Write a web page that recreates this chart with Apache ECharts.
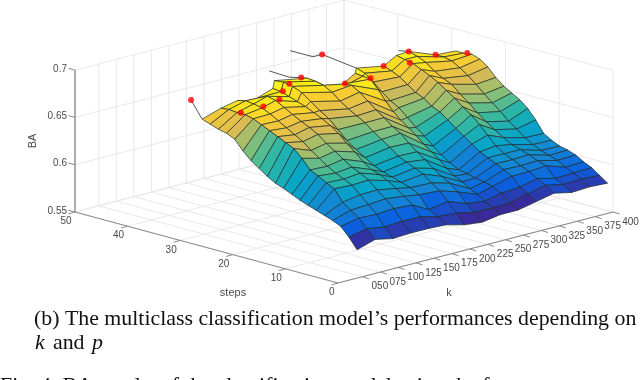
<!DOCTYPE html>
<html><head><meta charset="utf-8">
<style>html,body{margin:0;padding:0;background:#fff}#c{width:640px;height:380px}</style>
<script src="https://cdn.jsdelivr.net/npm/echarts@6/dist/echarts.min.js"></script>
</head><body><div id="c"></div>
<script>
const kValues=[50,75,100,125,150,175,200,225,250,275,300,325,350,375,400];
const kTicks=['050','075','100','125','150','175','200','225','250','275','300','325','350','375','400'];
const stepTicks=[0,10,20,30,40,50];
const baTicks=[0.55,0.6,0.65,0.7];
const baTickLabels=['0.55','0.6','0.65','0.7'];
// furthest step reached by the surface for each k
const lastStep=[30.4,30.2,30.4,31.3,30.4,33.4,30.6,30.2,28.2,31.3,29.5,30.4,31.4,29.7,29.2];
const firstStep=1;
// BA along each k column, front to back
const ba050=[.577,.588,.597,.601,.604,.607,.610,.613,.617,.621,.624,.629,.635,.641,.649,.659,.663,.665,.668,.671];
const ba075=[.583,.592,.601,.607,.613,.625,.629,.634,.638,.648,.656,.660,.664,.668,.672,.676,.678,.678,.679,.678];
const ba100=[.579,.589,.600,.608,.616,.624,.628,.632,.637,.643,.649,.656,.661,.666,.671,.676,.680,.682,.683,.681];
const ba125=[.580,.590,.601,.609,.616,.624,.629,.633,.639,.645,.651,.658,.663,.667,.672,.677,.682,.684,.680,.673];
const ba150=[.580,.590,.600,.607,.613,.619,.623,.626,.632,.640,.647,.655,.661,.666,.670,.674,.677,.680,.683,.684];
const ba175=[.579,.585,.590,.603,.608,.611,.614,.617,.621,.627,.633,.640,.649,.658,.664,.671,.678,.682,.684,.683];
const ba200=[.574,.584,.594,.603,.609,.616,.620,.624,.628,.635,.641,.647,.654,.659,.664,.670,.677,.682,.684,.685];
const ba225=[.572,.580,.587,.597,.604,.609,.615,.622,.628,.635,.643,.648,.655,.661,.668,.675,.680,.679,.669,.660];
const ba250=[.575,.580,.585,.590,.594,.599,.603,.609,.616,.622,.628,.635,.641,.647,.654,.663,.673,.682,.683,.684];
const ba275=[.575,.580,.588,.593,.595,.597,.599,.601,.606,.612,.619,.627,.634,.642,.650,.655,.662,.670,.677,.680];
const ba300=[.579,.585,.590,.599,.604,.608,.612,.616,.622,.628,.634,.641,.647,.651,.657,.661,.667,.673,.677,.680];
const ba325=[.583,.589,.594,.599,.603,.607,.611,.617,.626,.635,.643,.649,.656,.662,.668,.673,.677,.681,.683,.685];
const ba350=[.579,.585,.589,.600,.603,.607,.610,.613,.618,.624,.630,.637,.645,.652,.660,.664,.669,.676,.680,.683];
const ba375=[.580,.586,.590,.594,.599,.602,.605,.609,.614,.621,.627,.635,.642,.649,.657,.664,.670,.675,.677,.677];
const ba400=[.579,.585,.591,.595,.600,.603,.605,.609,.614,.626,.636,.643,.648,.653,.660,.669,.675,.678,.677,.677];
const baColumns=[ba050,ba075,ba100,ba125,ba150,ba175,ba200,ba225,ba250,ba275,ba300,ba325,ba350,ba375,ba400];
// red markers: best step and BA of each k
const bestStep=[32.5,26.4,25.5,25.8,28.5,30.6,31.7,26.8,25.3,37.7,29.5,27.9,31.4,29.7,27.1];
const bestBA=[.688,.679,.682,.684,.684,.684,.684,.680,.683,.685,.680,.681,.683,.677,.678];
// thin trailing curves: k, steps, BA
const tail050=[[50,30.4,.671],[50,31.5,.680],[50,32.5,.688]];
const tail200=[[200,30.6,.685],[200,34,.681],[200,37.7,.682]];
const tail275=[[275,31.3,.680],[275,37.7,.685],[275,39.4,.680],[275,43.7,.680]];
const tail350=[[350,31.4,.683],[350,33.3,.681]];

const parula=['#382a9a','#0a62e0','#1485d4','#06a7c6','#38b99e','#92bf73','#d9ba56','#fcce2e','#f9fb0e'];
const kMin=16,kMax=400,sMin=0,sMax=50,zMin=0.55,zMax=0.7,cMin=0.575,cMax=0.686;
const B=[338,283],C=[613,212],A=[75,212],D=[344,142],zPx=47.3/0.05;
function project(k,s,z){
  const u=(k-kMin)/(kMax-kMin),v=(s-sMin)/(sMax-sMin);
  const x=B[0]*(1-u)*(1-v)+C[0]*u*(1-v)+A[0]*(1-u)*v+D[0]*u*v;
  const y=B[1]*(1-u)*(1-v)+C[1]*u*(1-v)+A[1]*(1-u)*v+D[1]*u*v;
  return [x,y-(z-zMin)*zPx];
}
function colorOf(z){
  let f=Math.max(0,Math.min(1,(z-cMin)/(cMax-cMin)))*(parula.length-1);
  const i=Math.min(parula.length-2,Math.floor(f)),t=f-i;
  const a=parula[i],b=parula[i+1],p=(h,o)=>parseInt(h.substr(o,2),16);
  const m=o=>Math.round(p(a,o)+(p(b,o)-p(a,o))*t);
  return 'rgb('+m(1)+','+m(3)+','+m(5)+')';
}
const rows=ba050.length;
const stepAt=(c,r)=>firstStep+(lastStep[c]-firstStep)*r/(rows-1);
const quads=[];
for(let c=0;c<kValues.length-1;c++)for(let r=0;r<rows-1;r++){
  const v=[[c,r],[c+1,r],[c+1,r+1],[c,r+1]].map(([a,b])=>project(kValues[a],stepAt(a,b),baColumns[a][b]));
  const depth=(kValues[c]-kMin)*0.716+stepAt(c,r)*5.3;
  quads.push({depth,value:[].concat(...v),color:colorOf(baColumns[c][r])});
}
quads.sort((a,b)=>b.depth-a.depth);
const zHi=zMax,gridC='#e9e9e9',axisC='#8a8a8a';
const segs=[];
function seg(p,q,col,w){segs.push({value:[p[0],p[1],q[0],q[1]],col,w});}
kValues.forEach(k=>{
  seg(project(k,0,zMin),project(k,50,zMin),gridC,1);
  seg(project(k,50,zMin),project(k,50,zHi),gridC,1);
});
stepTicks.forEach(s=>{
  seg(project(kMin,s,zMin),project(kMax,s,zMin),gridC,1);
  seg(project(kMax,s,zMin),project(kMax,s,zHi),gridC,1);
});
baTicks.forEach(z=>{
  seg(project(kMin,50,z),project(kMax,50,z),gridC,1);
  seg(project(kMax,50,z),project(kMax,0,z),gridC,1);
});
seg(project(kMin,50,zMin),project(kMin,50,zMax),axisC,1.4);
seg(project(kMin,50,zMin),project(kMin,0,zMin),axisC,1.2);
seg(project(kMin,0,zMin),project(kMax,0,zMin),axisC,1.2);
kValues.forEach(k=>{const p=project(k,0,zMin);seg(p,[p[0]+6.5,p[1]+2],axisC,1);});
stepTicks.forEach(s=>{const p=project(kMin,s,zMin);seg(p,[p[0]-6.5,p[1]+1.8],axisC,1);});
baTicks.forEach(z=>{const p=project(kMin,50,z);seg(p,[p[0]-6.5,p[1]-1.7],axisC,1);});

const tailData=[tail050,tail200,tail275,tail350];
const dots=kValues.map((k,i)=>project(k,bestStep[i],bestBA[i]));
const labelC='#4a4a4a',sans='"Liberation Sans",Arial,sans-serif',serif='"Liberation Serif","Times New Roman",serif';
function txt(t,x,y,o){return {type:'text',x,y,silent:true,style:Object.assign({text:t,fill:labelC,font:'10px '+sans,textAlign:'center',textVerticalAlign:'middle'},o||{})};}
const g=[];
kTicks.forEach((t,i)=>{const p=project(kValues[i],0,zMin);g.push(txt(t,p[0]+17.5,p[1]+10));});
stepTicks.forEach(s=>{const p=project(kMin,s,zMin);g.push(txt(String(s),p[0]-3.5,p[1]+9.5,{textAlign:'right'}));});
baTicks.forEach((z,i)=>{const p=project(kMin,50,z);g.push(txt(baTickLabels[i],p[0]-8,p[1]-1,{textAlign:'right'}));});
g.push(txt('k',449,293,{font:'11px '+sans}));
g.push(txt('steps',233,293,{font:'11px '+sans}));
g.push(Object.assign(txt('BA',33,141,{font:'11px '+sans}),{rotation:Math.PI/2}));
const cap='21.85px '+serif,capI='italic 21.85px '+serif,capC='#111';
g.push(txt('(b) The multiclass classification model\u2019s performances depending on',34,319.5,{font:cap,fill:capC,textAlign:'left'}));
g.push(txt('k',35,343.5,{font:capI,fill:capC,textAlign:'left'}));
g.push(txt('and',53,343.5,{font:cap,fill:capC,textAlign:'left'}));
g.push(txt('p',92,343.5,{font:capI,fill:capC,textAlign:'left'}));
g.push(txt('Fig. 4: BA results of the classification model using the f',0,386,{font:cap,fill:capC,textAlign:'left'}));

const chart=echarts.init(document.getElementById('c'),null,{renderer:'canvas'});
chart.setOption({
  animation:false,backgroundColor:'#fff',
  grid:{left:0,right:0,top:0,bottom:0},
  xAxis:{type:'value',min:0,max:640,show:false},
  yAxis:{type:'value',min:0,max:380,inverse:true,show:false},
  graphic:{elements:g},
  series:[
    {type:'custom',clip:false,silent:true,z:1,data:segs.map(s=>s.value),
     renderItem(p,api){
       const a=api.coord([api.value(0),api.value(1)]),b=api.coord([api.value(2),api.value(3)]);
       const s=segs[p.dataIndex];
       return {type:'line',shape:{x1:a[0],y1:a[1],x2:b[0],y2:b[1]},style:{stroke:s.col,lineWidth:s.w,fill:null}};
     }},
    ...tailData.map(t=>({type:'line',silent:true,z:2,symbol:'none',lineStyle:{color:'#555',width:1},
      data:t.map(v=>project(v[0],v[1],v[2]))})),
    {type:'custom',clip:false,silent:true,z:3,data:quads.map(q=>q.value),
     renderItem(p,api){
       const pts=[];
       for(let i=0;i<4;i++)pts.push(api.coord([api.value(2*i),api.value(2*i+1)]));
       return {type:'polygon',shape:{points:pts},style:{fill:quads[p.dataIndex].color,stroke:'rgba(30,40,40,0.85)',lineWidth:0.8,lineJoin:'round'}};
     }},
    {type:'scatter',silent:true,z:4,symbol:'circle',symbolSize:6,itemStyle:{color:'#ff0000'},data:dots}
  ]
});
</script></body></html>
